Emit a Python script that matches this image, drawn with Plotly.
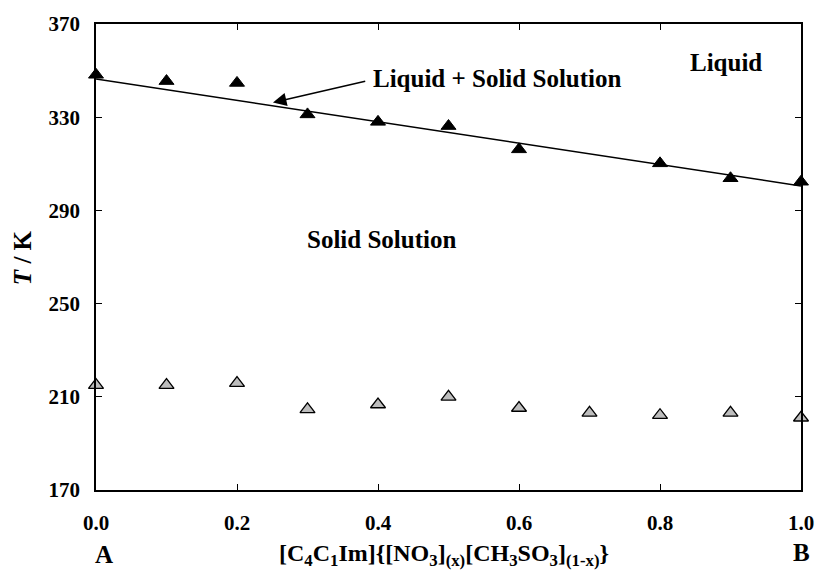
import plotly.graph_objects as go

# Data
x_liq = [0.0, 0.1, 0.2, 0.3, 0.4, 0.5, 0.6, 0.8, 0.9, 1.0]
T_liq = [348.2, 345.5, 344.7, 331.2, 328.0, 326.2, 316.2, 310.2, 303.8, 302.3]

x_fit = [0.0, 1.0]
T_fit = [346.4, 300.5]

x_tr = [0.0, 0.1, 0.2, 0.3, 0.4, 0.5, 0.6, 0.7, 0.8, 0.9, 1.0]
T_tr = [215.0, 215.0, 215.9, 204.6, 206.7, 210.0, 205.2, 203.1, 202.1, 203.1, 201.0]

x_ticks = [0.0, 0.2, 0.4, 0.6, 0.8, 1.0]
x_ticklabels = ["0.0", "0.2", "0.4", "0.6", "0.8", "1.0"]
y_ticks = [170, 210, 250, 290, 330, 370]

FONT = "Liberation Serif, Times New Roman, serif"

fig = go.Figure()
fig.add_trace(go.Scatter(x=x_fit, y=T_fit, mode="lines",
                         line=dict(color="black", width=1.5), showlegend=False))
fig.add_trace(go.Scatter(x=x_liq, y=T_liq, mode="markers",
                         marker=dict(symbol="triangle-up", size=13, color="black",
                                     line=dict(color="black", width=1)),
                         cliponaxis=False, showlegend=False))
fig.add_trace(go.Scatter(x=x_tr, y=T_tr, mode="markers",
                         marker=dict(symbol="triangle-up", size=13, color="#bdbdbd",
                                     line=dict(color="black", width=1.3)),
                         cliponaxis=False, showlegend=False))

axis_common = dict(showline=True, linecolor="black", linewidth=1.5, mirror="ticks",
                   ticks="inside", ticklen=6, tickwidth=1.3, tickcolor="black",
                   showgrid=False, zeroline=False,
                   tickfont=dict(family=FONT, size=21, color="black", weight="bold"))

fig.update_xaxes(range=[0, 1], tickvals=x_ticks, ticktext=x_ticklabels,
                 ticklabelstandoff=13, **axis_common)
fig.update_yaxes(range=[170, 370], tickvals=y_ticks, ticklabelstandoff=10, **axis_common)

bold = dict(family=FONT, size=25, color="black", weight="bold")
ann = [
    dict(x=0.893, y=353.3, xref="x", yref="y", text="Liquid", showarrow=False,
         font=bold, xanchor="center", yanchor="middle"),
    dict(x=0.39, y=346.4, xref="x", yref="y", text="Liquid + Solid Solution", showarrow=False,
         font=bold, xanchor="left", yanchor="middle"),
    dict(x=0.251, y=336.3, ax=0.384, ay=345.6, xref="x", yref="y", axref="x", ayref="y",
         text="", showarrow=True, arrowhead=2, arrowsize=1.8, arrowwidth=1.5, arrowcolor="black"),
    dict(x=0.405, y=277.5, xref="x", yref="y", text="Solid Solution", showarrow=False,
         font=bold, xanchor="center", yanchor="middle"),
    dict(x=-0.104, y=0.499, xref="paper", yref="paper", text="<i>T</i> / K", showarrow=False,
         font=bold, textangle=-90, xanchor="center", yanchor="middle"),
    dict(x=0.494, y=-0.139, xref="paper", yref="paper",
         text="[C<sub>4</sub>C<sub>1</sub>Im]{[NO<sub>3</sub>]<sub>(x)</sub>[CH<sub>3</sub>SO<sub>3</sub>]<sub>(1-x)</sub>}",
         showarrow=False, font=dict(family=FONT, size=24, color="black", weight="bold"),
         xanchor="center", yanchor="middle"),
    dict(x=0.011, y=-0.139, xref="paper", yref="paper", text="A", showarrow=False,
         font=bold, xanchor="center", yanchor="middle"),
    dict(x=1.0, y=-0.135, xref="paper", yref="paper", text="B", showarrow=False,
         font=bold, xanchor="center", yanchor="middle"),
]

fig.update_layout(width=826, height=577, margin=dict(l=96, r=17, t=23, b=87),
                  plot_bgcolor="white", paper_bgcolor="white",
                  annotations=ann, showlegend=False)

# remove the browser's default body margin so the figure sits at the window origin
fig.write_html("out.html", config={"displayModeBar": False},
               post_script="document.body.style.margin='0';document.body.style.overflow='hidden';")
